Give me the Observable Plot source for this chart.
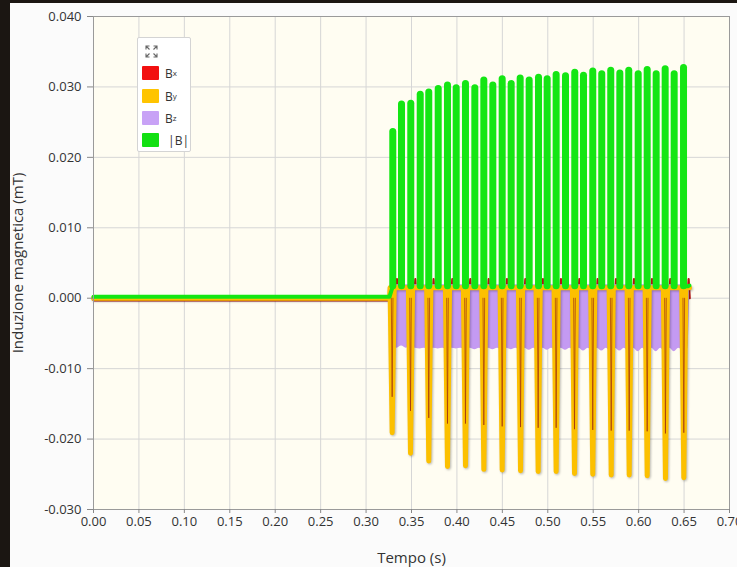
<!DOCTYPE html>
<html><head><meta charset="utf-8">
<script src="https://cdn.jsdelivr.net/npm/d3@7"></script>
<script src="https://cdn.jsdelivr.net/npm/@observablehq/plot@0.6"></script>
<style>
html,body{margin:0;padding:0;}
body{width:737px;height:567px;overflow:hidden;background:#1b1612;position:relative;font-family:"Open Sans",sans-serif;}
#panel{position:absolute;left:10px;top:3px;width:727px;height:564px;background:#fbfbfb;}
#chart{position:absolute;left:0;top:0;}
#legend{position:absolute;left:137px;top:37px;width:54px;height:115px;background:#fff;border:1px solid #d4d4d4;border-radius:2px;box-sizing:border-box;}
.row{position:absolute;left:4px;height:14px;display:flex;align-items:center;font-size:12px;color:#333;white-space:nowrap;}
.sw{width:17px;height:14px;margin-right:6px;border-radius:1px;}
.row sub{font-size:8px;line-height:0;vertical-align:-3px;}
#icon{position:absolute;left:7px;top:7px;}
.shadow path{filter:drop-shadow(1px 1px 0.8px rgba(0,0,0,0.28));}
</style></head>
<body>
<div id="panel"></div>
<div id="chart"></div>
<div id="legend">
  <svg id="icon" width="13" height="13" viewBox="0 0 13 13" fill="none" stroke="#666" stroke-width="1.1">
    <path d="M1 4.5V1h3.5M1 1l3.5 3.5"/><path d="M12 4.5V1H8.5M12 1L8.5 4.5"/>
    <path d="M1 8.5V12h3.5M1 12l3.5-3.5"/><path d="M12 8.5V12H8.5M12 12L8.5 8.5"/>
  </svg>
  <div class="row" style="top:28px"><div class="sw" style="background:#f21010"></div>B<sub>x</sub></div>
  <div class="row" style="top:51px"><div class="sw" style="background:#ffc400"></div>B<sub>y</sub></div>
  <div class="row" style="top:73px"><div class="sw" style="background:#c8a2f6"></div>B<sub>z</sub></div>
  <div class="row" style="top:95px"><div class="sw" style="background:#12e012"></div>&nbsp;|B|</div>
</div>
<script>
// ---- axes ----
const xTicks = [0,0.05,0.10,0.15,0.20,0.25,0.30,0.35,0.40,0.45,0.50,0.55,0.60,0.65,0.70];
const yTicks = [-0.03,-0.02,-0.01,0,0.01,0.02,0.03,0.04];
const xTitle = "Tempo (s)";
const yTitle = "Induzione magnetica (mT)";

// ---- burst timing (s) ----
const startT = 0.3258;   // end of the quiet part
const endT = 0.6560;     // end of the recording

// ---- |B| : peaks (mT) and the level between them ----
const peakT = [0.3294,0.3390,0.3492,0.3596,0.3690,0.3794,0.3896,0.3992,0.4094,0.4197,0.4296,0.4395,0.4498,0.4597,0.4696,0.4795,0.4898,0.4993,0.5092,0.5195,0.5297,0.5393,0.5495,0.5594,0.5693,0.5793,0.5891,0.5995,0.6094,0.6193,0.6292,0.6391,0.6494];
const peakB = [0.0236,0.0275,0.0276,0.0289,0.0292,0.0297,0.0302,0.0298,0.0304,0.0298,0.0309,0.0302,0.0311,0.0304,0.0312,0.0309,0.0313,0.0311,0.0317,0.0315,0.0320,0.0316,0.0322,0.0318,0.0323,0.0319,0.0323,0.0318,0.0324,0.0318,0.0325,0.0318,0.0327];
const troughT = [0.3342,0.3441,0.3544,0.3643,0.3742,0.3845,0.3944,0.4043,0.4146,0.4247,0.4346,0.4447,0.4548,0.4647,0.4746,0.4847,0.4946,0.5043,0.5144,0.5246,0.5345,0.5444,0.5545,0.5644,0.5743,0.5842,0.5943,0.6045,0.6144,0.6243,0.6342,0.6443,0.6543];
const quietB = 0.0002, troughB = 0.0017, endB = 0.0018;

// ---- By : negative dips ----
const dipT = [0.3287,0.3489,0.3690,0.3896,0.4094,0.4296,0.4498,0.4700,0.4894,0.5092,0.5294,0.5495,0.5698,0.5896,0.6094,0.6295,0.6497];
const dipV = [-0.0191,-0.0220,-0.0231,-0.0239,-0.0238,-0.0243,-0.0244,-0.0245,-0.0246,-0.0246,-0.0249,-0.0250,-0.0251,-0.0251,-0.0252,-0.0256,-0.0255];
const byRest = 0.0015, dipHalf = 0.0023;

// ---- Bx : thin dips inside By, small humps after ----
const bxDip = [-0.0140,-0.0160,-0.0170,-0.0178,-0.0178,-0.0180,-0.0182,-0.0183,-0.0184,-0.0184,-0.0186,-0.0187,-0.0188,-0.0188,-0.0189,-0.0192,-0.0191];
const bxHump = 0.0027, bxQuiet = -0.0003, bxHalf = 0.0009, humpAt = 0.0053, humpHalf = 0.0012;

// ---- Bz : band envelope ----
const bzLow = [-0.0066,-0.0068,-0.0070,-0.0072,-0.0073,-0.0072,-0.0073,-0.0072,-0.0073,-0.0073,-0.0074,-0.0073,-0.0074,-0.0073,-0.0074,-0.0074,-0.0075,-0.0074,-0.0075,-0.0074,-0.0075,-0.0075,-0.0076,-0.0075,-0.0076,-0.0075,-0.0076,-0.0076,-0.0077,-0.0076,-0.0077,-0.0076,-0.0075];
const bzLowMid = -0.0071, bzHigh = 0.0019;

// ---- build tables ----
const greenQuiet = [{t:0,v:quietB},{t:startT,v:quietB},{t:peakT[0],v:troughB}];
const greenEnd = [{t:peakT[peakT.length-1],v:troughB},{t:troughT[troughT.length-1],v:troughB},{t:endT,v:endB}];
const stalks = peakT.map((t,i)=>({t,lo:troughB,hi:peakB[i]}));

const yellow = [{t:0,v:0},{t:startT,v:0}];
dipT.forEach((t,i)=>{yellow.push({t:t-dipHalf,v:byRest});yellow.push({t,v:dipV[i]});yellow.push({t:t+dipHalf,v:byRest});});
yellow.push({t:endT,v:byRest});

const red = [{t:0,v:bxQuiet},{t:startT,v:bxQuiet}];
const redDips = [];
dipT.forEach((t,i)=>{
  red.push({t:t-bxHalf,v:0});red.push({t,v:bxDip[i]});red.push({t:t+bxHalf,v:0});
  red.push({t:t+humpAt-humpHalf,v:0});red.push({t:t+humpAt,v:bxHump});red.push({t:t+humpAt+humpHalf,v:0});
  redDips.push({t:t-bxHalf,v:0,z:i},{t,v:bxDip[i],z:i},{t:t+bxHalf,v:0,z:i});
});
red.push({t:endT,v:0});

const purple = [{t:startT,lo:0,hi:0}];
peakT.forEach((t,i)=>{purple.push({t,lo:bzLow[i],hi:bzHigh});purple.push({t:troughT[i],lo:bzLowMid,hi:bzHigh});});
purple.push({t:endT,lo:0,hi:0.001});
const quietZ = [{t:0,v:0},{t:startT,v:0}];

const green = "#14e614";
const chart = Plot.plot({
  width:737, height:567,
  marginLeft:93, marginRight:8, marginTop:16, marginBottom:58,
  x:{domain:[0,0.7]},
  y:{domain:[-0.03,0.04]},
  style:{background:"transparent",fontFamily:"'Open Sans',sans-serif",fontSize:"13px",color:"#333"},
  marks:[
    Plot.frame({fill:"#fffdf2",stroke:null}),
    Plot.gridX(xTicks,{stroke:"#d6d6d6",strokeOpacity:1}),
    Plot.gridY(yTicks,{stroke:"#d6d6d6",strokeOpacity:1}),
    Plot.line(red,{x:"t",y:"v",stroke:"#b81212",strokeWidth:2.2,strokeLinejoin:"round"}),
    Plot.line(quietZ,{x:"t",y:"v",stroke:"#c49af2",strokeWidth:3}),
    Plot.areaY(purple,{x:"t",y1:"lo",y2:"hi",fill:"#c49af2",curve:"monotone-x"}),
    Plot.line(yellow,{x:"t",y:"v",stroke:"#fcc000",strokeWidth:5,strokeLinejoin:"round",className:"shadow"}),
    Plot.line(redDips,{x:"t",y:"v",z:"z",stroke:"#9b2a10",strokeWidth:1,strokeOpacity:0.65}),
    Plot.line(greenQuiet,{x:"t",y:"v",stroke:green,strokeWidth:4,strokeLinejoin:"round"}),
    Plot.line(greenEnd,{x:"t",y:"v",stroke:green,strokeWidth:4,strokeLinejoin:"round"}),
    Plot.ruleX(stalks,{x:"t",y1:"lo",y2:"hi",stroke:green,strokeWidth:7,strokeLinecap:"round"}),
    Plot.frame({stroke:"#9a9a9a"}),
    Plot.axisX(xTicks,{tickSize:4,tickPadding:3,tickFormat:d=>d.toFixed(2),label:null,stroke:"#888"}),
    Plot.axisY(yTicks,{tickSize:6,tickPadding:6,tickFormat:d=>d.toFixed(3),label:null,stroke:"#888"}),
    Plot.text([yTitle],{text:d=>d,frameAnchor:"left",dx:-75,rotate:-90,textAnchor:"middle",lineAnchor:"middle",fontSize:15,fill:"#333"}),
    Plot.text([xTitle],{text:d=>d,frameAnchor:"bottom",dy:49,textAnchor:"middle",lineAnchor:"middle",fontSize:15,fill:"#333"})
  ]
});
document.getElementById("chart").appendChild(chart);
</script>
</body></html>
